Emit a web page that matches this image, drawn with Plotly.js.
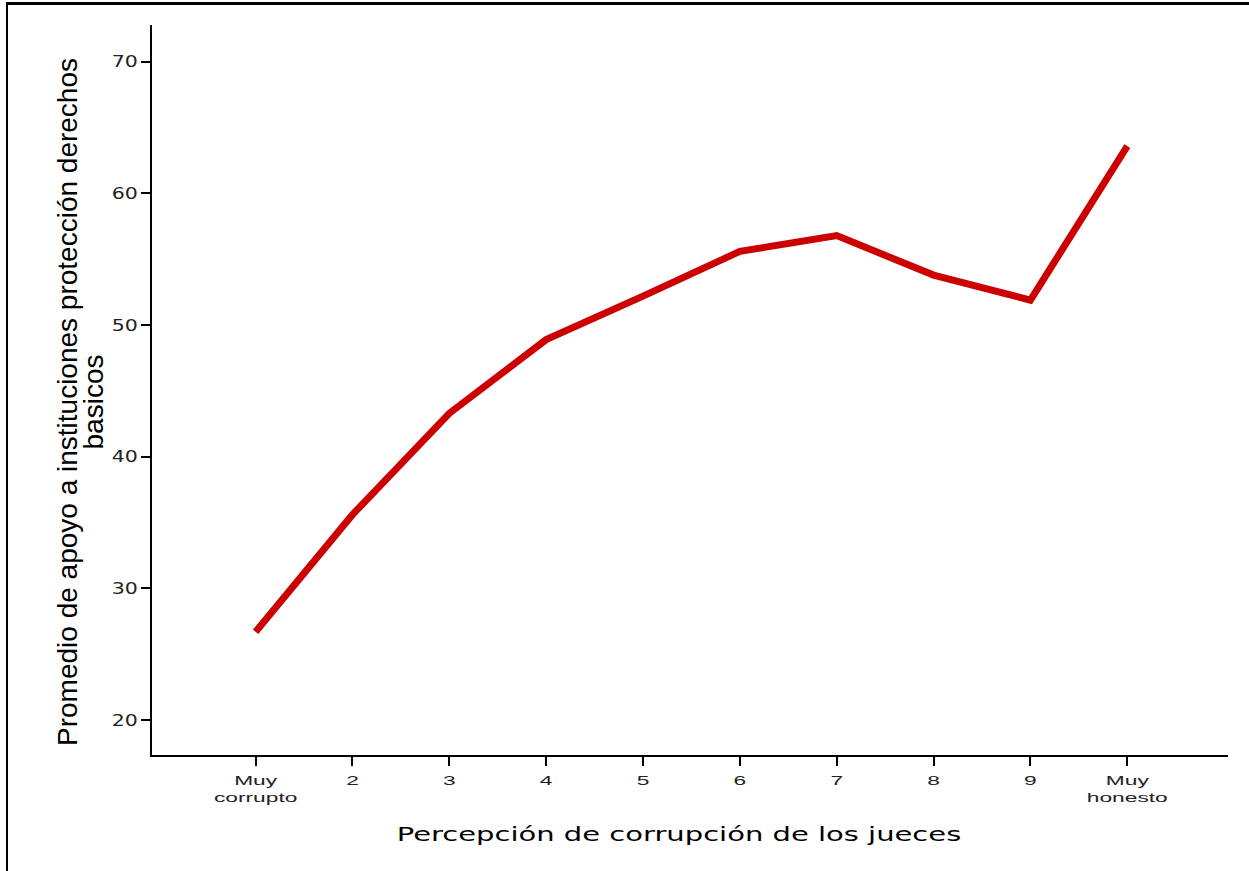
<!DOCTYPE html>
<html>
<head>
<meta charset="utf-8">
<script src="https://cdn.plot.ly/plotly-3.0.1.min.js"></script>
<style>
html,body{margin:0;padding:0;background:#fff;}
#wrap{position:absolute;left:0;top:0;width:1249px;height:871px;}
#frame{position:absolute;left:6px;top:2px;width:1243px;height:869px;border-left:2px solid #000;border-top:3px solid #000;box-sizing:border-box;pointer-events:none;}
#chart{position:absolute;left:0;top:0;width:1249px;height:871px;}
</style>
</head>
<body>
<div id="wrap"><div id="chart"></div><div id="frame"></div></div>
<script>
const categories = [1, 2, 3, 4, 5, 6, 7, 8, 9, 10];
const tickLabels = ["Muy<br>corrupto", "2", "3", "4", "5", "6", "7", "8", "9", "Muy<br>honesto"];
const meanSupport = [26.7, 35.6, 43.3, 48.9, 52.2, 55.6, 56.8, 53.8, 51.9, 63.6];
const yTicks = [20, 30, 40, 50, 60, 70];

const trace = {
  x: categories,
  y: meanSupport,
  type: 'scatter',
  mode: 'lines',
  line: {color: '#cc0000', width: 7},
  hoverinfo: 'skip'
};

const layout = {
  width: 1249, height: 871,
  margin: {l: 152, r: 21, t: 25, b: 116},
  paper_bgcolor: '#ffffff', plot_bgcolor: '#ffffff',
  showlegend: false,
  xaxis: {
    range: [-0.07, 11.04],
    tickmode: 'array', tickvals: categories, ticktext: tickLabels,
    ticks: 'outside', ticklen: 9, tickwidth: 2, tickcolor: '#000',
    ticklabelstandoff: 3,
    showline: true, linecolor: '#000', linewidth: 2,
    showgrid: false, zeroline: false,
    tickfont: {family: 'Liberation Sans, Arial, sans-serif', size: 13, color: '#222'},
    title: {text: 'Percepción de corrupción de los jueces', standoff: 23,
      font: {family: 'DejaVu Sans, sans-serif', size: 20, color: '#000'}}
  },
  yaxis: {
    range: [17.34, 72.8],
    tickmode: 'array', tickvals: yTicks,
    ticks: 'outside', ticklen: 9, tickwidth: 2, tickcolor: '#000',
    showline: true, linecolor: '#000', linewidth: 2,
    showgrid: false, zeroline: false,
    tickfont: {family: 'DejaVu Sans, sans-serif', size: 16, color: '#222'},
    title: {text: 'Promedio de apoyo a instituciones protección derechos<br>basicos', standoff: 14,
      font: {family: 'Liberation Sans, Arial, sans-serif', size: 28, color: '#000'}}
  }
};

function stretch(el, f) {
  const L = el.getComputedTextLength();
  if (L > 0) {
    el.setAttribute('textLength', (L * f).toFixed(2));
    el.setAttribute('lengthAdjust', 'spacingAndGlyphs');
  }
}
function stretchText(t, f) {
  const spans = t.querySelectorAll('tspan.line');
  if (spans.length) spans.forEach(s => stretch(s, f));
  else stretch(t, f);
}

Plotly.newPlot('chart', [trace], layout, {displayModeBar: false, staticPlot: true}).then(gd => {
  gd.querySelectorAll('.xtick text').forEach(t => stretchText(t, 1.75));
  gd.querySelectorAll('.ytick text').forEach(t => stretchText(t, 1.28));
  const xt = gd.querySelector('.xtitle');
  if (xt) {
    stretchText(xt, 1.45);
    const x0 = parseFloat(xt.getAttribute('x'));
    xt.setAttribute('x', x0 - 11);
  }
  const yt = gd.querySelector('.ytitle');
  if (yt) {
    const spans = yt.querySelectorAll('tspan.line');
    if (spans.length > 1) spans[1].setAttribute('dy', '0.93em');
    const shift = -12;
    const x0 = parseFloat(yt.getAttribute('x'));
    yt.setAttribute('x', x0 + shift);
    spans.forEach(s => { if (s.hasAttribute('x')) s.setAttribute('x', parseFloat(s.getAttribute('x')) + shift); });
    const tr = yt.getAttribute('transform') || '';
    yt.setAttribute('transform', 'translate(19,0) ' + tr);
  }
});
</script>
</body>
</html>
